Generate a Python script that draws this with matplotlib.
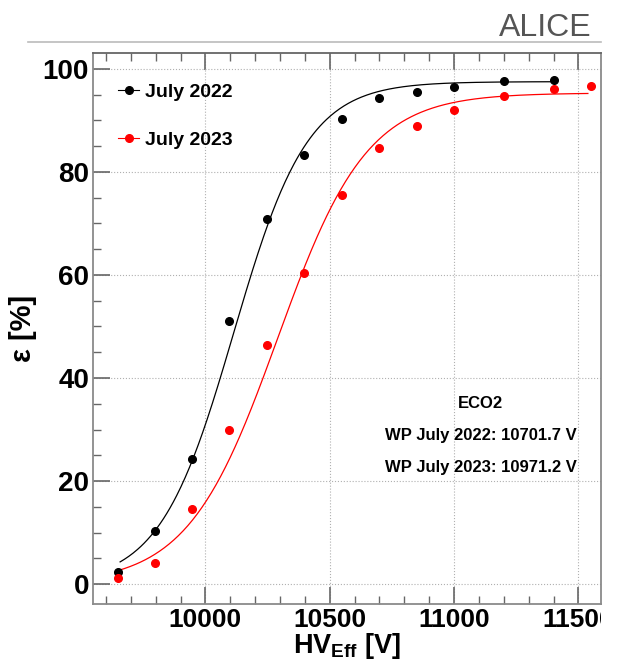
import numpy as np
import matplotlib
matplotlib.use("Agg")
import matplotlib.pyplot as plt
from matplotlib.lines import Line2D
from matplotlib.ticker import MultipleLocator
from matplotlib.transforms import Bbox, TransformedBbox

plt.rcParams['font.family'] = ['Liberation Sans', 'DejaVu Sans']
plt.rcParams['mathtext.fontset'] = 'custom'
plt.rcParams['mathtext.rm'] = 'Liberation Sans:bold'
plt.rcParams['mathtext.bf'] = 'Liberation Sans:bold'

# efficiency scans, ECO2 mixture
hv_2022 = [9647, 9797, 9946, 10096, 10246, 10398, 10549, 10698, 10849, 11000, 11200, 11401]
eff_2022 = [2.4, 10.4, 24.3, 51.0, 70.9, 83.2, 90.3, 94.3, 95.5, 96.4, 97.6, 97.8]

hv_2023 = [9647, 9797, 9946, 10096, 10246, 10398, 10549, 10698, 10849, 11000, 11200, 11401, 11549]
eff_2023 = [1.2, 4.1, 14.6, 29.9, 46.4, 60.4, 75.5, 84.7, 88.9, 92.0, 94.8, 96.1, 96.6]

# sigmoid fit parameters: plateau, slope, HV at 50%
fit_2022 = (97.5, 0.00672, 10113.6)
fit_2023 = (95.3, 0.005543, 10290.0)
fit_range_2022 = (9657, 11400)
fit_range_2023 = (9650, 11538)

wp_2022 = 10701.7
wp_2023 = 10971.2


def sigmoid(hv, emax, lam, hv50):
    return emax / (1 + np.exp(-lam * (hv - hv50)))


fig = plt.figure(figsize=(6.21, 6.63), dpi=100)
ax = fig.add_axes([0.1502, 0.0885, 0.8181, 0.8311])

ax.set_xlim(9549, 11592)
ax.set_ylim(-3.9, 103.0)

ax.grid(True, which='major', linestyle=':', color='#b0b0b0', linewidth=0.8)
ax.set_axisbelow(True)

hv_a = np.linspace(*fit_range_2022, 400)
hv_b = np.linspace(*fit_range_2023, 400)
ax.plot(hv_a, sigmoid(hv_a, *fit_2022), color='black', lw=0.9)
ax.plot(hv_b, sigmoid(hv_b, *fit_2023), color='red', lw=0.9)

ax.plot(hv_2022, eff_2022, 'o', color='black', ms=5.5, zorder=3)
ax.plot(hv_2023, eff_2023, 'o', color='red', ms=5.5, zorder=3)

# axes style
for s in ax.spines.values():
    s.set_color('#8a8a8a')
    s.set_linewidth(1.3)
ax.spines['top'].set_color('#666666')

ax.xaxis.set_major_locator(MultipleLocator(500))
ax.xaxis.set_minor_locator(MultipleLocator(100))
ax.yaxis.set_major_locator(MultipleLocator(20))
ax.yaxis.set_minor_locator(MultipleLocator(5))
ax.tick_params(which='both', direction='in', top=True, right=False, color='#666666')
ax.tick_params(which='major', length=12, width=1.2)
ax.tick_params(which='minor', length=6, width=1.0)
ax.tick_params(axis='y', labelsize=20, pad=3)
ax.tick_params(axis='x', labelsize=19, pad=3)

# x labels are cut at the right edge of the frame
clip = TransformedBbox(Bbox([[0, 0], [601 / 621, 1]]), fig.transFigure)
for lab in ax.get_xticklabels() + ax.get_yticklabels():
    lab.set_fontweight('bold')
for lab in ax.get_xticklabels():
    lab.set_clip_on(True)
    lab.set_clip_box(clip)

ax.set_xlabel(r'HV$_{\mathbf{Eff}}$ [V]', fontsize=19.5, fontweight='bold', labelpad=-1)
ax.set_ylabel('ε [%]', fontsize=21, fontweight='bold', labelpad=4)

handles = [
    Line2D([], [], color='black', marker='o', ms=5.5, lw=0.8),
    Line2D([], [], color='red', marker='o', ms=5.5, lw=0.8),
]
leg = ax.legend(handles, ['July 2022', 'July 2023'], loc='upper left',
                bbox_to_anchor=(0.0486, 0.945), frameon=False, borderpad=0,
                borderaxespad=0, handlelength=1.1, handletextpad=0.3,
                labelspacing=1.55, prop={'weight': 'bold', 'size': 14})

ax.text(0.763, 0.365, 'ECO2', transform=ax.transAxes, ha='center', va='center',
        fontsize=12, fontweight='bold')
ax.text(0.763, 0.307, f'WP July 2022: {wp_2022:.1f} V', transform=ax.transAxes,
        ha='center', va='center', fontsize=12, fontweight='bold')
ax.text(0.763, 0.249, f'WP July 2023: {wp_2023:.1f} V', transform=ax.transAxes,
        ha='center', va='center', fontsize=12, fontweight='bold')

# header
fig.text(592 / 621, 1 - 36 / 663, 'ALICE', ha='right', va='baseline',
         fontsize=23, color='#555555')
fig.add_artist(Line2D([28 / 621, 601 / 621], [1 - 41.7 / 663, 1 - 41.7 / 663],
                      color='#bbbbbb', lw=1.2))

fig.savefig('out.png', dpi=100)
